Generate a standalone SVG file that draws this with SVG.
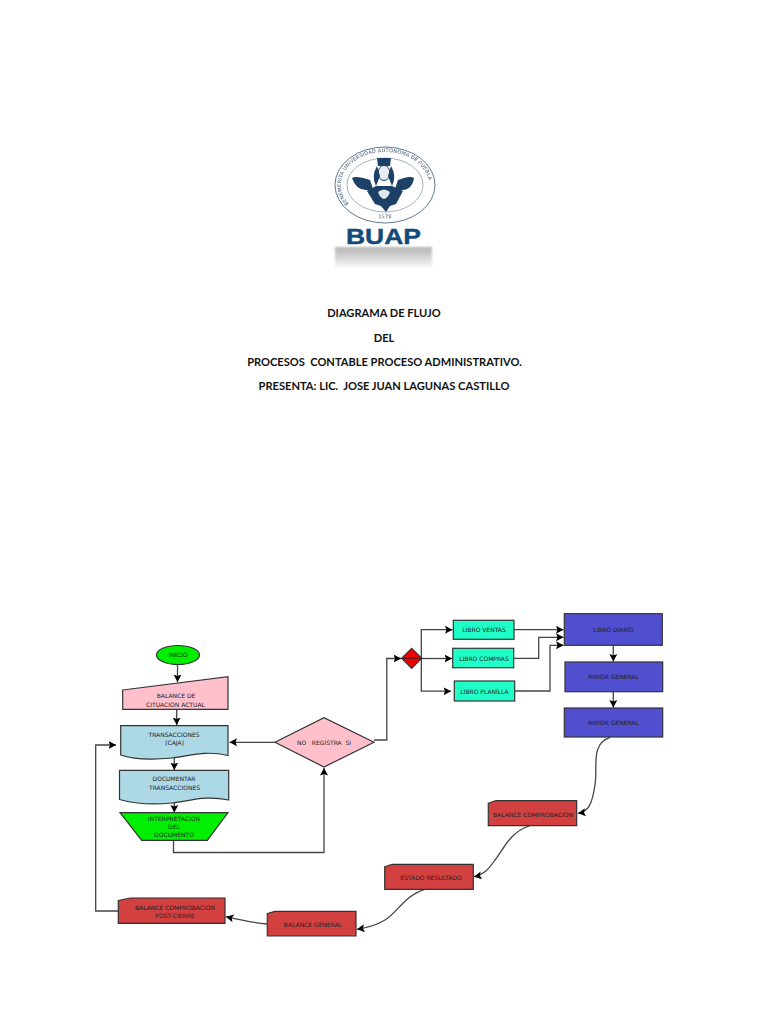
<svg xmlns="http://www.w3.org/2000/svg" width="768" height="1024" viewBox="0 0 768 1024">
<style>
.title{font-family:Lato,"Liberation Sans",sans-serif;font-weight:700;font-size:11.1px;fill:#111;text-anchor:middle}
.t{font-family:"DejaVu Sans",sans-serif;font-size:6px;text-anchor:middle;fill:#222}
.n{stroke:#333;stroke-width:1.2}
.c{fill:none;stroke:#444;stroke-width:1.3;marker-end:url(#a)}
.p{fill:none;stroke:#444;stroke-width:1.3}
.s{fill:#1d3f66}
.sl{fill:none;stroke:#1d3f66}
.sealtxt{font-family:"DejaVu Sans",sans-serif;font-size:5px;fill:#3a5370;letter-spacing:.2px}
</style>
<defs>
<marker id="a" markerUnits="userSpaceOnUse" markerWidth="10" markerHeight="10" refX="7.5" refY="4.5" orient="auto"><path d="M0,0.5 L7.5,4.5 L0,8.5 L1.5,4.5 Z" fill="#000"/></marker>
<linearGradient id="r" x1="0" y1="0" x2="0" y2="1"><stop offset="0" stop-color="#b4b4b4"/><stop offset=".6" stop-color="#dedede"/><stop offset="1" stop-color="#fff"/></linearGradient>
<filter id="b" x="-5%" y="-5%" width="110%" height="110%"><feGaussianBlur stdDeviation=".45"/></filter>
<filter id="b2" x="-10%" y="-20%" width="120%" height="140%"><feGaussianBlur stdDeviation="1.2"/></filter>
<path id="top" d="M350,205 A44,33 0 1 1 420,205"/>
<path id="bot" d="M355,209 A42,31 0 0 0 415,209"/>
</defs>
<rect width="768" height="1024" fill="#fff"/>

<g id="logo" filter="url(#b)">
<ellipse cx="385" cy="185" rx="50" ry="38" class="sl" stroke-width=".7"/>
<ellipse cx="385" cy="185" rx="38" ry="27" class="sl" stroke-width=".4"/>
<text class="sealtxt"><textPath href="#top" startOffset="1%">BENEMERITA UNIVERSIDAD AUTONOMA DE PUEBLA</textPath></text>
<text class="sealtxt" text-anchor="middle"><textPath href="#bot" startOffset="50%">1578</textPath></text>
<path class="s" d="M377,158 L391,158 L390,166 L378,166 Z"/>
<ellipse cx="384" cy="173" rx="6" ry="7.5" fill="#e8edf2" stroke="#1d3f66"/>
<path class="s" d="M377,166 Q371,176 376,186 L380,176 Z M391,166 Q397,176 392,186 L388,176 Z"/>
<path class="s" d="M352,178 Q356,175 370,180 L374,192 L366,190 Q356,190 352,178 Z M414,178 Q410,175 398,180 L394,192 L402,190 Q412,190 414,178 Z"/>
<path class="s" d="M367,191 L376,186 L392,186 L403,191 L396,204 L390,206 L386,212 L381,206 L375,204 Z"/>
<path d="M378,192 Q384,187 390,192 Q388,198 384,199 Q380,198 378,192 Z" fill="#dfe6ec"/>
</g>
<rect id="logo-reflection" x="335" y="247" width="97" height="22" fill="url(#r)" filter="url(#b2)"/>
<text id="logo-text" x="383.5" y="244" text-anchor="middle" font-family="Liberation Sans, sans-serif" font-weight="700" font-size="22" fill="#134a78" stroke="#134a78" stroke-width=".4" textLength="75" lengthAdjust="spacingAndGlyphs">BUAP</text>

<g id="titles">
<text class="title" x="384" y="317">DIAGRAMA DE FLUJO</text>
<text class="title" x="384" y="342">DEL</text>
<text class="title" x="384.5" y="366" xml:space="preserve">PROCESOS  CONTABLE PROCESO ADMINISTRATIVO.</text>
<text class="title" x="384" y="390" xml:space="preserve">PRESENTA: LIC.  JOSE JUAN LAGUNAS CASTILLO</text>
</g>

<g id="connectors">
<path class="c" d="M177.5,665 V682"/>
<path class="c" d="M176.7,709 V725"/>
<path class="c" d="M174.3,755 V770"/>
<path class="c" d="M174.3,800 V812.5"/>
<path class="c" d="M173.5,840 V852.5 H324 V768"/>
<path class="c" d="M275,742.3 H229.5"/>
<path class="c" d="M374,740 H386.8 V658.5 H401"/>
<path class="p" d="M401,658.5 H421.3"/>
<path class="c" d="M421.3,658.5 V629.7 H452.5"/>
<path class="c" d="M421.3,658.5 H452"/>
<path class="c" d="M421.3,658.5 V691.2 H451"/>
<path class="c" d="M514,629.7 H563.5"/>
<path class="c" d="M513.7,658.3 H538.7 V637.3 H563.5"/>
<path class="c" d="M514.7,691 H550 V645.3 H563.5"/>
<path class="c" d="M613.3,645.3 V661.5"/>
<path class="c" d="M613.3,691.7 V707.5"/>
<path class="c" d="M610,737.3 C590,744 598,768 595,785 C592,805 588,812 578,813.3"/>
<path class="c" d="M529.3,826 C510,832 503,850 495,860 C488,870 483,875 474,876.7"/>
<path class="c" d="M425,889.3 C405,895 397,913 385,920 C375,926 366,928 357,929.3"/>
<path class="c" d="M267.3,924 C253,923 240,920 226,916.7"/>
<path class="c" d="M118.3,911 H95.7 V745 H116"/>
</g>

<g id="inicio"><ellipse class="n" cx="178" cy="655" rx="21.5" ry="9.5" fill="#00ee00"/><text class="t" x="178" y="657">INICIO</text></g>
<g id="balance-situacion"><path class="n" d="M122.7,690 L228,676.7 V709.3 H122.7 Z" fill="#ffc0cb"/><text class="t" x="176" y="697.5">BALANCE DE</text><text class="t" x="175.5" y="706.5">CITUACION ACTUAL</text></g>
<g id="transacciones"><path class="n" d="M120.7,725.7 H228 V755.5 C205,750 190,756 172,758 C152,760 135,760 120.7,755 Z" fill="#add8e6"/><text class="t" x="174" y="736.5">TRANSACCIONES</text><text class="t" x="174.5" y="745">[CAJA]</text></g>
<g id="documentar"><path class="n" d="M119.5,770.3 H228.7 V800 C205,795 190,801 172,803 C152,805 135,804 119.5,799.5 Z" fill="#add8e6"/><text class="t" x="174" y="781">DOCUMENTAR</text><text class="t" x="174.5" y="790">TRANSACCIONES</text></g>
<g id="interpretacion"><path class="n" d="M120,812.7 H228 L207.3,840.3 H141.7 Z" fill="#00ee00"/><text class="t" x="174" y="821">INTERPRETACION</text><text class="t" x="174" y="829">DEL</text><text class="t" x="174" y="837">DOCUMENTO</text></g>
<g id="decision"><path class="n" d="M275,742.3 L324,717.7 L374,742.3 L324,767 Z" fill="#ffc0cb"/><text class="t" x="324" y="745" xml:space="preserve">NO   REGISTRA  SI</text></g>
<g id="rombo"><path class="n" d="M411.7,648.3 L421.7,658.3 L411.7,668.3 L401.7,658.3 Z" fill="#ee0000"/><path d="M402,658.3 H421.5" stroke="#222" stroke-width=".8"/></g>
<g id="libro-ventas"><rect class="n" x="453.3" y="620.3" width="60.7" height="19" fill="#1fffc8"/><text class="t" x="484" y="632">LIBRO VENTAS</text></g>
<g id="libro-compras"><rect class="n" x="452.7" y="648.3" width="61" height="19.4" fill="#1fffc8"/><text class="t" x="484" y="660.5">LIBRO COMPRAS</text></g>
<g id="libro-planilla"><rect class="n" x="454.3" y="681" width="60.4" height="20" fill="#1fffc8"/><text class="t" x="484.5" y="693.5">LIBRO PLANILLA</text></g>
<g id="libro-diario"><rect class="n" x="564.3" y="613.7" width="98" height="31.6" fill="#4f4fcf"/><text class="t" x="613.5" y="631.5">LIBRO DIARIO</text></g>
<g id="mayor-general-1"><rect class="n" x="565" y="662" width="97.7" height="29.7" fill="#4f4fcf"/><text class="t" x="613.5" y="679">MAYOR GENERAL</text></g>
<g id="mayor-general-2"><rect class="n" x="564.3" y="708" width="98.4" height="29" fill="#4f4fcf"/><text class="t" x="613.5" y="724.5">MAYOR GENERAL</text></g>
<g id="balance-comprobacion"><path class="n" d="M488.3,803.3 L496,800.7 H576.7 V825.7 H488.3 Z" fill="#d24040"/><text class="t" x="533" y="816.5">BALANCE COMPROBACION</text></g>
<g id="estado-resultado"><path class="n" d="M384.7,866.7 L392,864.3 H473.3 V889.3 H384.7 Z" fill="#d24040"/><text class="t" x="431" y="880">ESTADO RESULTADO</text></g>
<g id="balance-general"><path class="n" d="M267.3,913.5 L275,911.3 H356 V936 H267.3 Z" fill="#d24040"/><text class="t" x="313" y="927">BALANCE GENERAL</text></g>
<g id="balance-post"><path class="n" d="M118.3,900.5 L130,898 H225 V923.3 H118.3 Z" fill="#d24040"/><text class="t" x="175" y="909.5">BALANCE COMPROBACION</text><text class="t" x="175" y="917.5">POST-CIERRE</text></g>
</svg>
